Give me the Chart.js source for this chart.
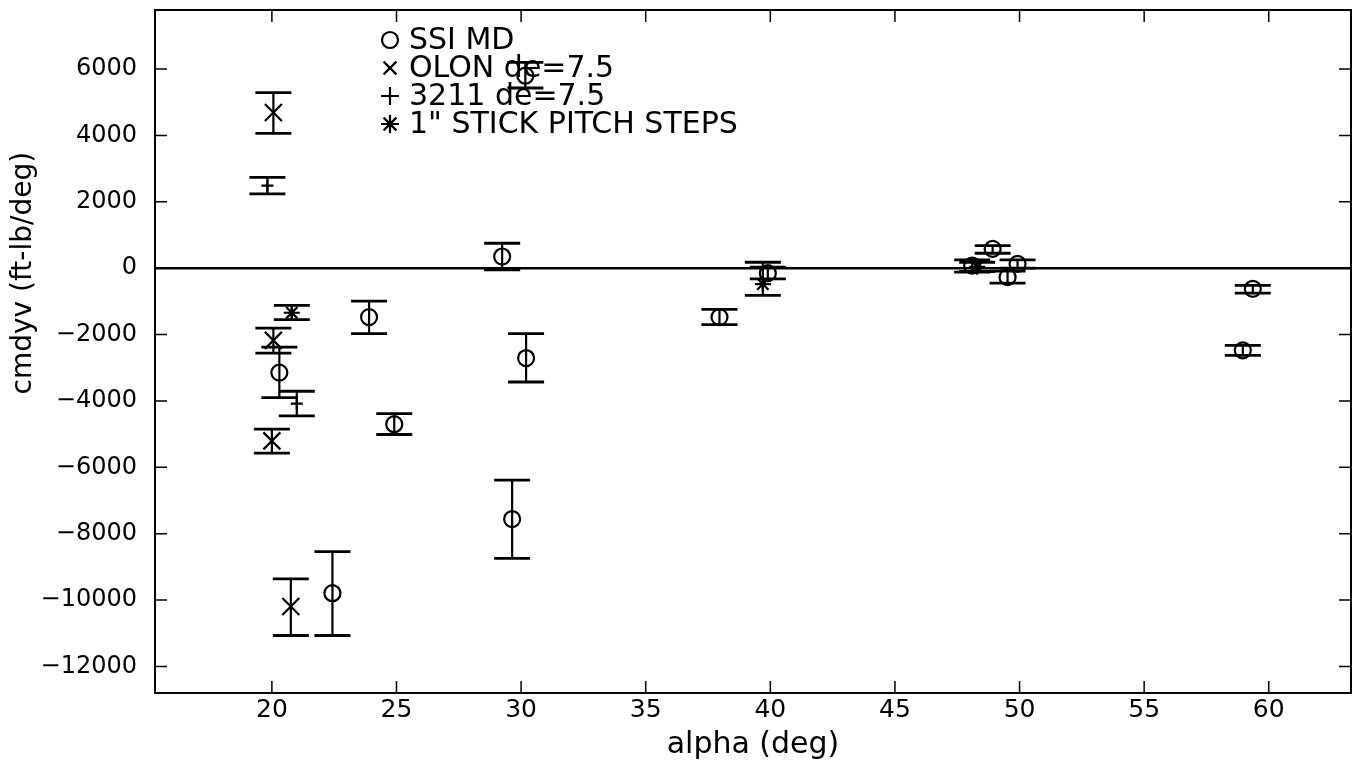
<!DOCTYPE html>
<html>
<head>
<meta charset="utf-8">
<script src="https://cdn.jsdelivr.net/npm/chart.js"></script>
<style>
  html, body { margin: 0; padding: 0; background: #fff; }
</style>
</head>
<body>
<canvas id="cm" width="1362" height="778"></canvas>
<script>
// SSI MD estimates (alpha, value, lower / upper bound)
const ssiAlpha = [29.24, 30.17, 20.3, 22.43, 23.9, 24.91, 30.2, 29.64, 37.96, 39.9, 48.92, 48.1, 49.92, 49.52, 59.36, 58.96];
const ssiVal   = [352, 5800, -3146, -9793, -1473, -4701, -2707, -7558, -1473, -150, 583, 80, 132, -270, -620, -2475];
const ssiLo    = [-48, 5430, -3898, -11067, -1974, -5011, -3429, -8741, -1703, -320, 451, -120, 0, -450, -752, -2626];
const ssiHi    = [752, 6200, -2376, -8541, -992, -4380, -1974, -6385, -1242, 30, 683, 253, 253, -90, -520, -2325];

// OLON de=7.5
const olonAlpha = [20.06, 20.06, 20.0, 20.76];
const olonVal   = [4692, -2175, -5203, -10195];
const olonLo    = [4060, -2556, -5573, -11067];
const olonHi    = [5293, -1804, -4851, -9363];

// 3211 de=7.5
const m3211Alpha = [19.82, 21.0];
const m3211Val   = [2487, -4078];
const m3211Lo    = [2238, -4451];
const m3211Hi    = [2737, -3708];

// 1" stick pitch steps
const stickAlpha = [20.8, 39.7, 48.3];
const stickVal   = [-1342, -480, 40];
const stickLo    = [-1552, -820, -100];
const stickHi    = [-1122, 180, 180];

const xTicks = [20, 25, 30, 35, 40, 45, 50, 55, 60];
const yTicks = [-12000, -10000, -8000, -6000, -4000, -2000, 0, 2000, 4000, 6000];
const yTickLabels = ['\u221212000', '\u221210000', '\u22128000', '\u22126000', '\u22124000', '\u22122000', '0', '2000', '4000', '6000'];

const xMin = 15.31, xMax = 63.3;
const yMin = -12800, yMax = 7780;

const FONT = '"DejaVu Sans", sans-serif';
const Y_TITLE = 'cmdyv (ft-lb/deg)';

function pts(xs, ys) {
    return xs.map((x, i) => ({ x: x, y: ys[i] }));
}

// draws one marker shape at (x, y)
function marker(ctx, style, x, y, r) {
    ctx.beginPath();
    if (style === 'circle') {
        ctx.arc(x, y, r, 0, Math.PI * 2);
    } else if (style === 'crossRot') {
        const d = r * 0.707;
        ctx.moveTo(x - d, y - d); ctx.lineTo(x + d, y + d);
        ctx.moveTo(x - d, y + d); ctx.lineTo(x + d, y - d);
    } else if (style === 'cross') {
        ctx.moveTo(x - r, y); ctx.lineTo(x + r, y);
        ctx.moveTo(x, y - r); ctx.lineTo(x, y + r);
    } else if (style === 'star') {
        ctx.moveTo(x - r, y); ctx.lineTo(x + r, y);
        ctx.moveTo(x, y - r); ctx.lineTo(x, y + r);
        const d = r * 0.707;
        ctx.moveTo(x - d, y - d); ctx.lineTo(x + d, y + d);
        ctx.moveTo(x - d, y + d); ctx.lineTo(x + d, y - d);
    }
    ctx.stroke();
}

// vertical error bars with caps
const errorBars = {
    id: 'errorBars',
    beforeDatasetsDraw(chart) {
        const { ctx, scales: { x, y } } = chart;
        ctx.save();
        ctx.strokeStyle = '#000';
        chart.data.datasets.forEach(ds => {
            if (!ds.lo) return;
            ds.data.forEach((p, i) => {
                const px = x.getPixelForValue(p.x);
                const yl = y.getPixelForValue(ds.lo[i]);
                const yh = y.getPixelForValue(ds.hi[i]);
                ctx.lineWidth = 2.2;
                ctx.beginPath();
                ctx.moveTo(px, yl); ctx.lineTo(px, yh);
                ctx.stroke();
                ctx.lineWidth = 2.8;
                ctx.beginPath();
                ctx.moveTo(px - 18, yl); ctx.lineTo(px + 18, yl);
                ctx.moveTo(px - 18, yh); ctx.lineTo(px + 18, yh);
                ctx.stroke();
            });
        });
        ctx.restore();
    }
};

// box around the axes with inward ticks on all four sides, plus the y label
const axesBox = {
    id: 'axesBox',
    afterDraw(chart) {
        const { ctx, chartArea: a, scales: { x, y } } = chart;
        const tl = 12;
        ctx.save();
        ctx.strokeStyle = '#000';
        ctx.lineWidth = 2;
        ctx.strokeRect(a.left, a.top, a.right - a.left, a.bottom - a.top);
        ctx.lineWidth = 1.5;
        ctx.beginPath();
        xTicks.forEach(v => {
            const px = x.getPixelForValue(v);
            ctx.moveTo(px, a.bottom); ctx.lineTo(px, a.bottom - tl);
            ctx.moveTo(px, a.top); ctx.lineTo(px, a.top + tl);
        });
        yTicks.forEach(v => {
            const py = y.getPixelForValue(v);
            ctx.moveTo(a.left, py); ctx.lineTo(a.left + tl, py);
            ctx.moveTo(a.right, py); ctx.lineTo(a.right - tl, py);
        });
        ctx.stroke();

        // y label sits a little above the middle of the axis
        ctx.translate(24, y.getPixelForValue(-150));
        ctx.rotate(-Math.PI / 2);
        ctx.fillStyle = '#000';
        ctx.font = '28px ' + FONT;
        ctx.textAlign = 'center';
        ctx.textBaseline = 'middle';
        ctx.fillText(Y_TITLE, 0, 0);
        ctx.restore();
    }
};

// legend inside the axes, no frame
const inLegend = {
    id: 'inLegend',
    afterDraw(chart) {
        const { ctx } = chart;
        const rows = chart.data.datasets.filter(ds => ds.lo);
        ctx.save();
        ctx.strokeStyle = '#000';
        ctx.fillStyle = '#000';
        ctx.font = '30px ' + FONT;
        ctx.textBaseline = 'middle';
        ctx.textAlign = 'left';
        rows.forEach((ds, i) => {
            const ry = 40 + i * 28;
            ctx.lineWidth = 2.2;
            marker(ctx, ds.pointStyle, 390, ry, ds.pointStyle === 'circle' ? 8 : 9);
            ctx.fillText(ds.label, 409, ry + 1);
        });
        ctx.restore();
    }
};

function series(label, style, r, xs, ys, lo, hi) {
    return {
        label: label,
        data: pts(xs, ys),
        lo: lo,
        hi: hi,
        showLine: false,
        pointStyle: style,
        pointRadius: r,
        pointBorderWidth: 2.2,
        pointBorderColor: '#000',
        pointBackgroundColor: 'rgba(0,0,0,0)'
    };
}

new Chart(document.getElementById('cm'), {
    type: 'scatter',
    data: {
        datasets: [
            series('SSI MD', 'circle', 8, ssiAlpha, ssiVal, ssiLo, ssiHi),
            series('OLON de=7.5', 'crossRot', 12, olonAlpha, olonVal, olonLo, olonHi),
            series('3211 de=7.5', 'cross', 6, m3211Alpha, m3211Val, m3211Lo, m3211Hi),
            series('1" STICK PITCH STEPS', 'star', 8, stickAlpha, stickVal, stickLo, stickHi),
            {
                // zero reference line
                label: 'zero',
                data: [{ x: xMin, y: 0 }, { x: xMax, y: 0 }],
                showLine: true,
                borderColor: '#000',
                borderWidth: 2.5,
                pointRadius: 0
            }
        ]
    },
    options: {
        responsive: false,
        devicePixelRatio: 1,
        animation: false,
        layout: { autoPadding: false, padding: { left: 0, right: 11, top: 10, bottom: 0 } },
        plugins: {
            legend: { display: false },
            tooltip: { enabled: false }
        },
        scales: {
            x: {
                type: 'linear',
                min: xMin,
                max: xMax,
                grid: { display: false, drawTicks: false },
                border: { display: false },
                afterBuildTicks: s => { s.ticks = xTicks.map(v => ({ value: v })); },
                afterFit: s => { s.height = 85; s.paddingLeft = 0; s.paddingRight = 0; },
                ticks: {
                    color: '#000',
                    padding: 2,
                    font: { family: FONT, size: 25 }
                },
                title: {
                    display: true,
                    text: 'alpha (deg)',
                    color: '#000',
                    font: { family: FONT, size: 30 },
                    padding: { top: 0, bottom: 15 }
                }
            },
            y: {
                type: 'linear',
                min: yMin,
                max: yMax,
                grid: { display: false, drawTicks: false },
                border: { display: false },
                afterBuildTicks: s => { s.ticks = yTicks.map(v => ({ value: v })); },
                afterFit: s => { s.width = 155; s.paddingTop = 0; s.paddingBottom = 0; },
                ticks: {
                    color: '#000',
                    padding: 18,
                    font: { family: FONT, size: 24 },
                    callback: v => yTickLabels[yTicks.indexOf(v)]
                }
            }
        }
    },
    plugins: [errorBars, axesBox, inLegend]
});
</script>
</body>
</html>
